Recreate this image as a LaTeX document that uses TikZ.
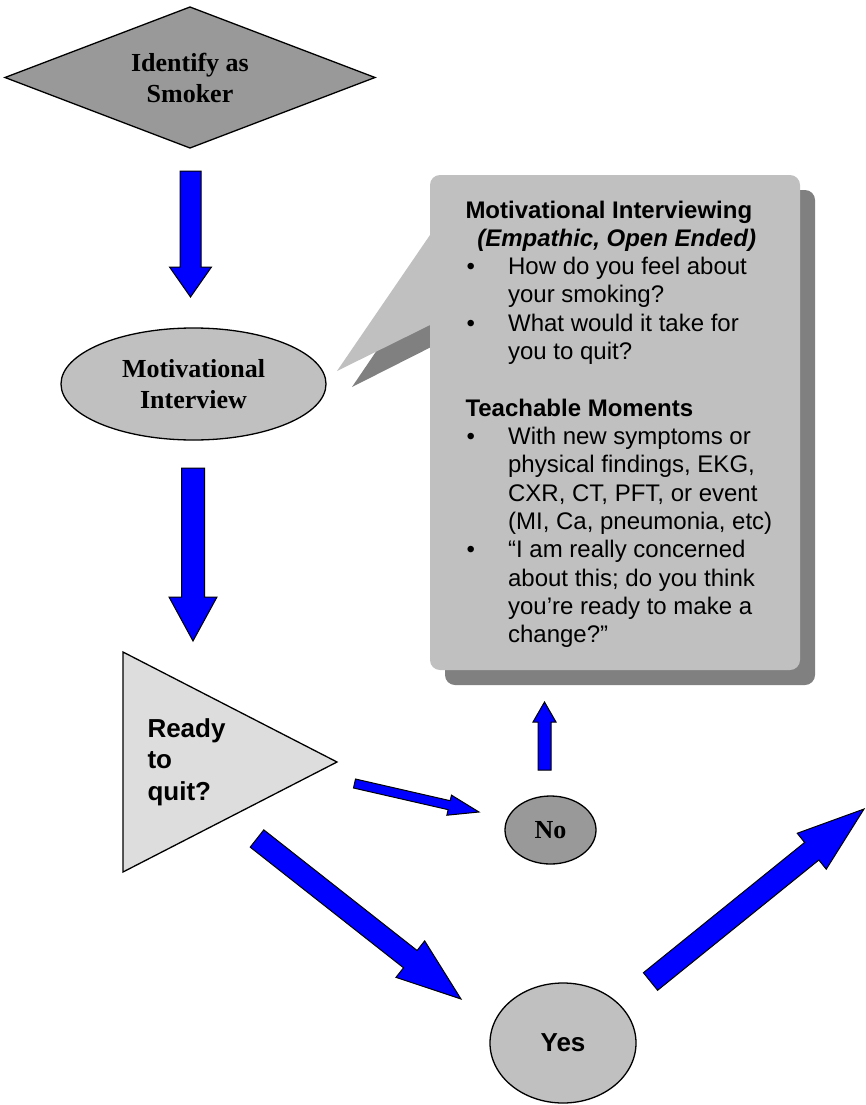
\documentclass[tikz,border=0pt]{standalone}
\usepackage{fontspec}
\setmainfont{Liberation Serif}
\newfontfamily\arial{Liberation Sans}
\usetikzlibrary{shapes.geometric,calc}
\definecolor{boxgray}{HTML}{C0C0C0}
\definecolor{shadowgray}{HTML}{808080}
\definecolor{darkfill}{HTML}{999999}
\definecolor{trifill}{HTML}{DDDDDD}
\definecolor{arrblue}{HTML}{0000FF}
\newcommand\mibul{\makebox[42.6pt][l]{\hspace*{1pt}\textbullet}}
\newcommand\miind{\hspace*{42.6pt}}
\newcommand\blockarrow[5]{%
  \coordinate (#1-#2-hb) at ($(#2)!#5!(#1)$);
  \draw[blockarr] ($(#1)!#3!90:(#2)$) -- ($(#1-#2-hb)!#3!90:(#2)$) -- ($(#1-#2-hb)!#4!90:(#2)$) -- (#2) -- ($(#1-#2-hb)!#4!-90:(#2)$) -- ($(#1-#2-hb)!#3!-90:(#2)$) -- ($(#1)!#3!-90:(#2)$) -- cycle;}
\tikzset{
  outl/.style={draw=black, line width=1.3pt, inner sep=0pt, outer sep=0pt},
  timesbold/.style={font={\fontsize{26}{31}\selectfont\bfseries}, align=center},
  blockarr/.style={draw=black, line width=1pt, fill=arrblue, line join=miter},
  calltext/.style={font={\arial\fontsize{24}{28.33}\selectfont}, align=left, inner sep=0pt, outer sep=0pt},
  readytext/.style={font={\arial\fontsize{26}{31.7}\selectfont\bfseries}, align=left, inner sep=0pt, outer sep=0pt}
}
\begin{document}
\begin{tikzpicture}[x=1pt,y=-1pt]
\useasboundingbox (0,0) rectangle (865,1105);
\fill[white] (0,0) rectangle (865,1105);

% callout shadow and box
\fill[shadowgray] (445,250) -- (352,387) -- (445,340) -- cycle;
\node[fill=shadowgray, rounded corners=10pt, minimum width=370pt, minimum height=495pt, inner sep=0pt, outer sep=0pt] (boxshadow) at (630,437.5) {};
\fill[boxgray] (430,235) -- (337,371) -- (430,325) -- cycle;
\node[fill=boxgray, rounded corners=10pt, minimum width=370pt, minimum height=495pt, inner sep=0pt, outer sep=0pt] (box) at (615,422.5) {};
\node[calltext, anchor=north west] (mitext) at (465.5,198) {%
\textbf{\rule{0pt}{20pt}Motivational Interviewing}\\
\hspace*{11.8pt}\textbf{\textit{(Empathic, Open Ended)}}\\
\mibul How do you feel about\\
\miind your smoking?\\
\mibul What would it take for\\
\miind you to quit?\\[28.33pt]
\textbf{Teachable Moments}\\
\mibul With new symptoms or\\
\miind physical findings, EKG,\\
\miind CXR, CT, PFT, or event\\
\miind (MI, Ca, pneumonia, etc)\\
\mibul “I am really concerned\\
\miind about this; do you think\\
\miind you’re ready to make a\\
\miind change?”};

% nodes
\node[diamond, aspect=2.62, minimum width=370pt, minimum height=141pt, outl, fill=darkfill, timesbold] (smoker) at (190,77.5) {Identify as\\Smoker};
\node[ellipse, minimum width=265pt, minimum height=112pt, outl, fill=boxgray, timesbold] (mi) at (193.5,384) {Motivational\\Interview};
\node[isosceles triangle, isosceles triangle stretches, shape border rotate=0, minimum width=220pt, minimum height=214pt, outl, fill=trifill, anchor=apex] (ready) at (337,762) {};
\node[readytext, anchor=north west] (readylbl) at (147.5,717) {\rule{0pt}{20pt}Ready\\to\\quit?};
\node[ellipse, minimum width=91pt, minimum height=68pt, outl, fill=darkfill, timesbold] (no) at (550.5,830) {No};
\node[ellipse, minimum width=146pt, minimum height=120pt, outl, fill=boxgray, font={\arial\fontsize{26}{31}\selectfont\bfseries}] (yes) at (563,1043) {Yes};

% arrow end points
\coordinate (a1t) at (190.5,171);  \coordinate (a1h) at (190.5,297);
\coordinate (a2t) at (193,468);    \coordinate (a2h) at (193,641);
\coordinate (a3t) at (354.5,783.5);\coordinate (a3h) at (479,812);
\coordinate (a4t) at (257,838.5);  \coordinate (a4h) at (461,999);
\coordinate (a5t) at (650.5,981.5);\coordinate (a5h) at (864,809);
\coordinate (a6t) at (544.5,770);  \coordinate (a6h) at (544.5,702);

\blockarrow{a1t}{a1h}{10.5pt}{21pt}{30pt}
\blockarrow{a2t}{a2h}{11.5pt}{24pt}{44pt}
\blockarrow{a3t}{a3h}{4.6pt}{10.3pt}{30.6pt}
\blockarrow{a4t}{a4h}{11pt}{23.2pt}{64.5pt}
\blockarrow{a5t}{a5h}{11.3pt}{23.1pt}{67.2pt}
\blockarrow{a6t}{a6h}{6.5pt}{11.5pt}{20pt}
\end{tikzpicture}
\end{document}
